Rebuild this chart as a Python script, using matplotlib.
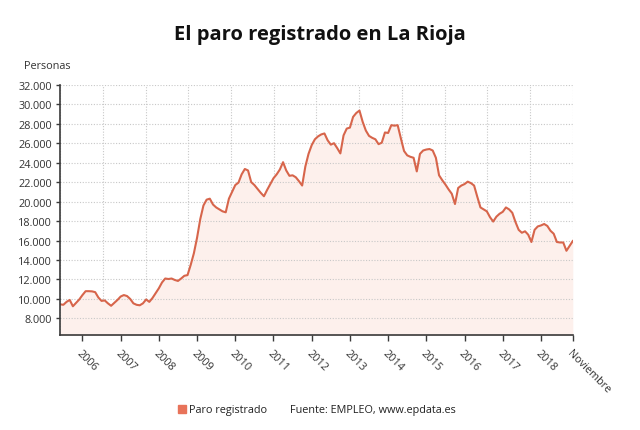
import matplotlib.pyplot as plt
import matplotlib.patches as mpatches
import numpy as np

plt.rcParams['font.family'] = ['Open Sans', 'DejaVu Sans']

# Paro registrado en La Rioja, mensual, junio 2005 - noviembre 2018
paro = [
    9450, 9400, 9700, 9900, 9250, 9600, 9950, 10400, 10800, 10800,
    10780, 10700, 10150, 9800, 9850, 9550, 9300, 9600, 9900, 10250,
    10400, 10300, 10000, 9550, 9400, 9350, 9550, 9950, 9700, 10100,
    10600, 11100, 11700, 12100, 12050, 12100, 11950, 11850, 12100, 12380,
    12450, 13500, 14700, 16300, 18200, 19600, 20200, 20300, 19700, 19400,
    19200, 19000, 18900, 20300, 21000, 21700, 21950, 22800, 23350, 23200,
    22000, 21700, 21300, 20900, 20550, 21200, 21800, 22400, 22800, 23300,
    24050, 23200, 22650, 22700, 22500, 22100, 21650, 23600, 24900, 25800,
    26400, 26700, 26900, 27000, 26300, 25850, 26000, 25500, 24950, 26800,
    27500, 27600, 28700, 29100, 29350, 28200, 27300, 26750, 26550, 26400,
    25900, 26050, 27100, 27050, 27850, 27800, 27850, 26500, 25200, 24750,
    24600, 24500, 23100, 24900, 25250, 25350, 25400, 25250, 24500, 22700,
    22200, 21750, 21250, 20800, 19750, 21400, 21650, 21800, 22050, 21900,
    21650, 20500, 19400, 19200, 19000, 18400, 17950, 18450, 18750, 18950,
    19400, 19200, 18850, 17900, 17100, 16800, 16950, 16600, 15850, 17100,
    17450, 17550, 17700, 17500, 17000, 16700, 15850, 15800, 15800, 14950,
    15450, 15950,
]
year_labels = ['2006', '2007', '2008', '2009', '2010', '2011', '2012',
               '2013', '2014', '2015', '2016', '2017', '2018']
first_jan = 7  # enero 2006 es el mes 7 de la serie
y_ticks = list(range(8000, 32001, 2000))

x = np.arange(len(paro))
line_color = '#d7654b'

fig = plt.figure(figsize=(6.4, 4.31), dpi=100)
ax = fig.add_axes([0.094, 0.22, 0.801, 0.581])

ax.fill_between(x, paro, 0, color='#fdf0ec', lw=0)
ax.plot(x, paro, color=line_color, lw=1.5, solid_joinstyle='round')

ax.set_xlim(0, len(paro) - 1)
ax.set_ylim(6280, 32000)

# rejilla
ax.set_yticks(y_ticks)
ax.set_yticklabels([f'{v:,}'.replace(',', '.') for v in y_ticks])
ax.yaxis.grid(True, color='#c8c8c8', lw=0.8, ls=(0, (1, 1.5)))
for gx in np.linspace(0, len(paro) - 1, 13):
    ax.axvline(gx, color='#c8c8c8', lw=0.8, ls=(0, (1, 1.5)), zorder=0.5)

xt = [first_jan + 12 * i for i in range(len(year_labels))] + [len(paro) - 1]
ax.set_xticks(xt)
ax.set_xticklabels(year_labels + ['Noviembre'], rotation=-45, ha='left',
                   va='top', rotation_mode='anchor')

for s in ['top', 'right']:
    ax.spines[s].set_visible(False)
for s in ['left', 'bottom']:
    ax.spines[s].set_color('#3a3a3a')
    ax.spines[s].set_linewidth(1.2)
ax.tick_params(axis='y', length=3, width=1, color='#3a3a3a', labelsize=7.8,
               labelcolor='#333333', pad=3)
ax.tick_params(axis='x', length=4, width=1, color='#3a3a3a', labelsize=7.8,
               labelcolor='#333333', pad=5)

fig.text(0.5, 0.918, 'El paro registrado en La Rioja', ha='center', va='center',
         fontsize=14.5, fontweight='bold', color='#111111')
fig.text(0.038, 0.845, 'Personas', ha='left', va='center', fontsize=7.8,
         color='#333333')

# leyenda
fig.patches.append(mpatches.Rectangle((0.278, 0.039), 0.0125, 0.019,
                                      transform=fig.transFigure,
                                      color='#e8735a'))
fig.text(0.295, 0.048, 'Paro registrado', ha='left', va='center', fontsize=7.8,
         color='#222222')
fig.text(0.453, 0.048, 'Fuente: EMPLEO, www.epdata.es', ha='left', va='center',
         fontsize=7.8, color='#222222')

plt.savefig('out.png', dpi=100)
